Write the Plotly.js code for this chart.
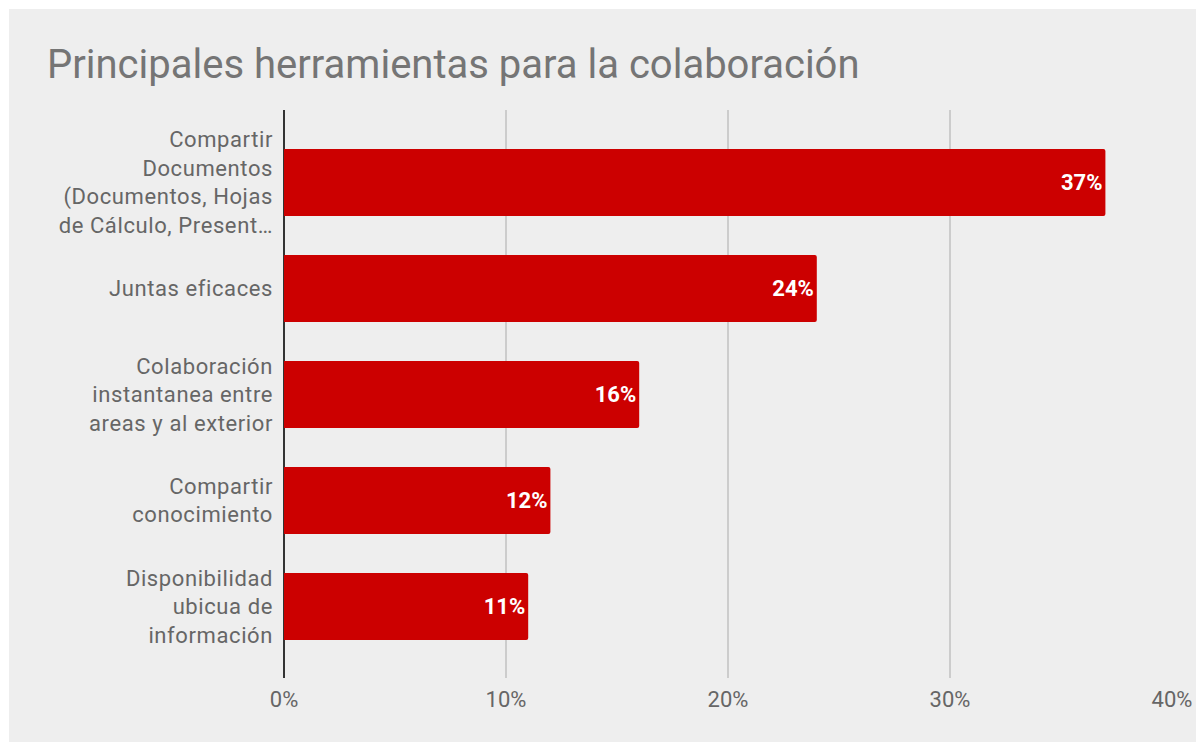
<!DOCTYPE html>
<html>
<head>
<meta charset="utf-8">
<script src="https://cdn.plot.ly/plotly-3.0.1.min.js"></script>
<style>
  html, body { margin: 0; padding: 0; background: #ffffff; }
  #chart { position: absolute; left: 9px; top: 9px; width: 1187px; height: 733px; }
  #chart .ytick text { letter-spacing: 0.6px; }
</style>
</head>
<body>
<div id="chart"></div>
<script>
const categories = [
  "Compartir<br>Documentos<br>(Documentos, Hojas<br>de Cálculo, Present…",
  "Juntas eficaces",
  "Colaboración<br>instantanea entre<br>areas y al exterior",
  "Compartir<br>conocimiento",
  "Disponibilidad<br>ubicua de<br>información"
];
const values = [0.37, 0.24, 0.16, 0.12, 0.11];
const valueLabels = ["37%", "24%", "16%", "12%", "11%"];
const xTickValues = [0, 0.1, 0.2, 0.3, 0.4];
const xTickLabels = ["0%", "10%", "20%", "30%", "40%"];

const trace = {
  type: "bar",
  orientation: "h",
  y: categories,
  x: values,
  text: valueLabels,
  textposition: "inside",
  insidetextanchor: "end",
  constraintext: "none",
  textfont: { family: "Roboto, Arial, sans-serif", size: 22, color: "#ffffff", weight: "bold" },
  marker: { color: "#cc0000", cornerradius: 2 },
  width: 0.632,
  hoverinfo: "none"
};

const layout = {
  width: 1187,
  height: 733,
  paper_bgcolor: "#eeeeee",
  plot_bgcolor: "#eeeeee",
  margin: { l: 275, r: 24, t: 101, b: 64 },
  showlegend: false,
  title: {
    text: "Principales herramientas para la colaboración",
    font: { family: "Roboto, Arial, sans-serif", size: 40, color: "#757575" },
    xref: "container", x: 38 / 1187, xanchor: "left",
    yref: "container", y: 1 - 55 / 733, yanchor: "middle"
  },
  xaxis: {
    range: [0, 0.4],
    tickvals: xTickValues,
    ticktext: xTickLabels,
    showgrid: true,
    gridcolor: "#cccccc",
    gridwidth: 1.5,
    zeroline: true,
    zerolinecolor: "#333333",
    zerolinewidth: 1.5,
    showline: false,
    ticks: "",
    ticklabelstandoff: 6,
    tickfont: { family: "Roboto, Arial, sans-serif", size: 22, color: "#666666" },
    fixedrange: true
  },
  yaxis: {
    type: "category",
    categoryorder: "array",
    categoryarray: categories,
    range: [4.675, -0.684],
    showgrid: false,
    zeroline: false,
    showline: false,
    ticks: "",
    ticklabelstandoff: 10,
    tickfont: { family: "Roboto, Arial, sans-serif", size: 22, color: "#666666" },
    fixedrange: true
  },
  bargap: 0.368
};

Plotly.newPlot("chart", [trace], layout, { displayModeBar: false, staticPlot: true });
</script>
</body>
</html>
